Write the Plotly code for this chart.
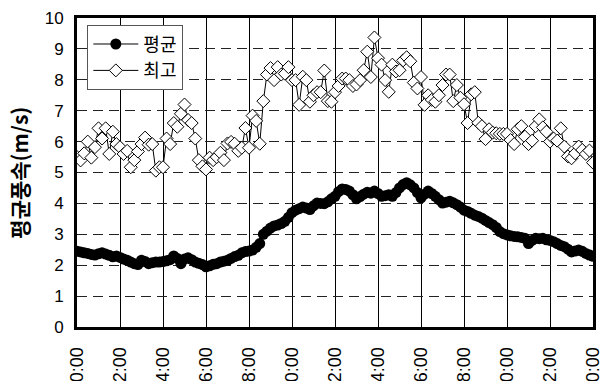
import plotly.graph_objects as go

hour_ticks = [0, 2, 4, 6, 8, 10, 12, 14, 16, 18, 20, 22, 24]
tick_labels = ["0:00", "2:00", "4:00", "6:00", "8:00", "10:00", "12:00",
               "14:00", "16:00", "18:00", "20:00", "22:00", "0:00"]

mean_speed = [
    2.45, 2.43, 2.40, 2.38, 2.35, 2.33, 2.37, 2.40, 2.36, 2.32, 2.27, 2.30,
    2.25, 2.20, 2.16, 2.10, 2.05, 2.02, 2.16, 2.12, 2.05, 2.08, 2.10, 2.10,
    2.12, 2.14, 2.18, 2.30, 2.22, 2.05, 2.20, 2.24, 2.18, 2.10, 2.06, 2.02,
    1.95, 1.98, 2.03, 2.05, 2.10, 2.13, 2.16, 2.22, 2.28, 2.32, 2.40, 2.44,
    2.46, 2.49, 2.58, 2.70, 3.00, 3.10, 3.20, 3.27, 3.30, 3.35, 3.42, 3.55,
    3.70, 3.78, 3.83, 3.88, 3.85, 3.80, 3.92, 4.01, 4.00, 3.99, 4.05, 4.15,
    4.23, 4.38, 4.47, 4.45, 4.40, 4.28, 4.15, 4.22, 4.30, 4.36, 4.33, 4.40,
    4.32, 4.23, 4.25, 4.28, 4.23, 4.35, 4.50, 4.61, 4.67, 4.60, 4.50, 4.35,
    4.18, 4.30, 4.40, 4.32, 4.23, 4.12, 4.01, 4.04, 4.07, 4.02, 3.96, 3.88,
    3.78, 3.74, 3.68, 3.62, 3.58, 3.52, 3.45, 3.38, 3.31, 3.22, 3.09, 3.02,
    2.98, 2.95, 2.93, 2.92, 2.90, 2.87, 2.70, 2.80, 2.87, 2.86, 2.87, 2.82,
    2.80, 2.76, 2.70, 2.64, 2.60, 2.52, 2.43, 2.46, 2.49, 2.45, 2.38, 2.33, 2.29,
]

max_speed = [
    5.50, 5.39, 5.62, 6.00, 5.48, 5.82, 6.43, 6.10, 6.43, 5.60, 6.32, 5.92,
    5.82, 5.60, 5.70, 5.17, 5.40, 5.68, 5.92, 6.13, 5.90, 5.92, 5.06, 5.17,
    5.17, 6.10, 5.92, 6.60, 6.48, 6.90, 7.20, 6.70, 6.60, 6.10, 5.40, 5.20,
    5.10, 5.48, 5.40, 5.50, 5.64, 5.40, 5.94, 5.99, 5.93, 5.70, 5.80, 6.44,
    5.80, 6.84, 6.67, 5.93, 7.31, 8.17, 8.38, 7.99, 8.41, 8.17, 8.20, 8.41,
    7.99, 7.99, 7.19, 8.10, 7.99, 7.29, 7.50, 7.60, 7.60, 8.30, 7.31, 7.29,
    7.60, 7.80, 8.04, 8.04, 7.99, 7.80, 7.85, 7.99, 8.31, 8.91, 8.09, 9.37,
    8.70, 8.49, 7.99, 7.61, 8.49, 8.27, 8.31, 8.63, 8.73, 8.60, 7.91, 7.72,
    8.09, 7.19, 7.50, 7.35, 7.29, 7.50, 7.83, 8.17, 8.17, 7.31, 7.83, 7.42,
    7.21, 6.60, 7.53, 7.60, 6.61, 6.50, 6.08, 6.40, 6.29, 6.27, 6.25, 6.25,
    6.25, 6.05, 5.92, 6.40, 6.50, 6.16, 5.92, 6.03, 6.50, 6.72, 6.46, 6.32,
    6.00, 6.10, 6.03, 6.43, 5.84, 5.52, 5.46, 5.62, 5.84, 5.73, 5.60, 5.71, 5.32,
]

hours = [i / 6 for i in range(len(mean_speed))]

FONT = "Liberation Sans, Arial, Noto Sans CJK KR, sans-serif"
KFONT = "Noto Sans CJK KR, sans-serif"

fig = go.Figure()
fig.add_trace(go.Scatter(
    x=hours, y=mean_speed, name="평균", mode="lines+markers",
    line=dict(color="black", width=1),
    marker=dict(symbol="circle", size=11, color="black"),
))
fig.add_trace(go.Scatter(
    x=hours, y=max_speed, name="최고", mode="lines+markers",
    line=dict(color="black", width=1),
    marker=dict(symbol="diamond", size=10, color="white",
                line=dict(color="black", width=1)),
))

fig.update_layout(
    width=602, height=381,
    margin=dict(l=77, r=9, t=18, b=54),
    paper_bgcolor="white", plot_bgcolor="white",
    font=dict(family=FONT, size=16, color="black"),
    showlegend=True,
    legend=dict(
        x=0.02, y=0.978, xanchor="left", yanchor="top",
        bgcolor="white", bordercolor="#555", borderwidth=1,
        font=dict(family=KFONT, size=18),
        tracegroupgap=8, itemwidth=45,
    ),
    xaxis=dict(
        range=[0, 24], tickvals=hour_ticks, ticktext=tick_labels,
        tickangle=-90, showgrid=True, gridcolor="black", gridwidth=1,
        showline=True, linecolor="black", linewidth=3, mirror=True,
        zeroline=False, ticks="", automargin=False, ticklabelstandoff=10,
        ticklabeloverflow="allow",
        tickfont=dict(size=18),
    ),
    yaxis=dict(
        range=[0, 10], dtick=1, showgrid=True, gridcolor="#222",
        griddash="10px,6px", gridwidth=1,
        showline=True, linecolor="black", linewidth=3, mirror=True,
        zeroline=False, ticks="", ticklabelstandoff=7, automargin=False,
        tickfont=dict(size=17),
    ),
)

fig.add_annotation(
    text="<b>평균풍속(m/s)</b>", textangle=-90,
    xref="paper", yref="paper", x=-0.114, y=0.5,
    xanchor="center", yanchor="middle", showarrow=False,
    font=dict(family=KFONT, size=21, color="black"),
)

fig.write_html("out.html")
